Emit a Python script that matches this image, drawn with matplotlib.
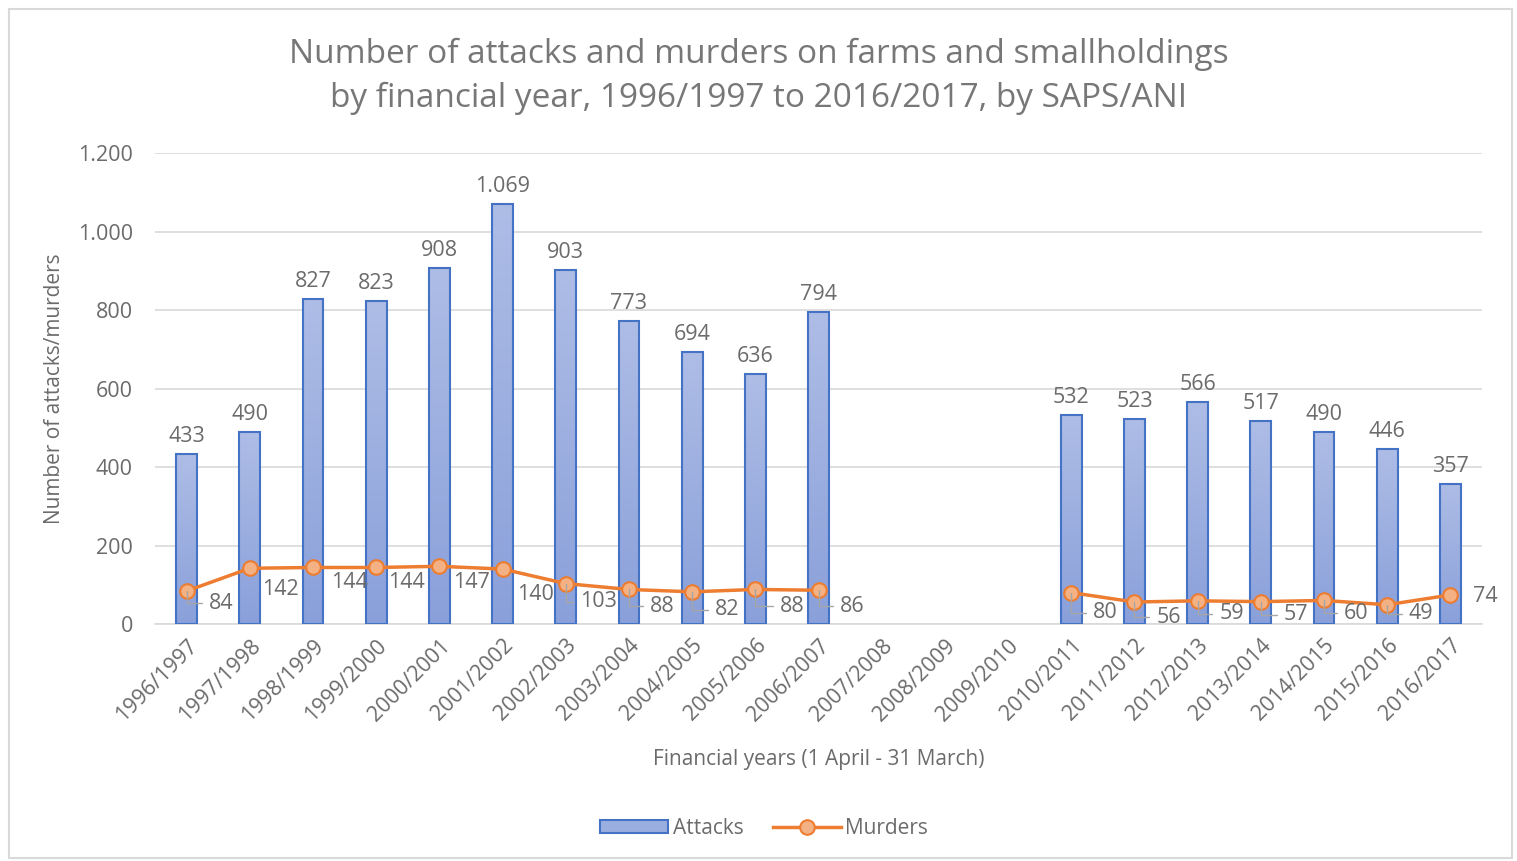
import matplotlib.pyplot as plt
import numpy as np
from matplotlib.patches import Rectangle
from matplotlib.colors import LinearSegmentedColormap

plt.rcParams['font.family'] = ['Open Sans', 'DejaVu Sans']

years = ["1996/1997", "1997/1998", "1998/1999", "1999/2000", "2000/2001",
         "2001/2002", "2002/2003", "2003/2004", "2004/2005", "2005/2006",
         "2006/2007", "2007/2008", "2008/2009", "2009/2010", "2010/2011",
         "2011/2012", "2012/2013", "2013/2014", "2014/2015", "2015/2016",
         "2016/2017"]
attacks = [433, 490, 827, 823, 908, 1069, 903, 773, 694, 636, 794,
           None, None, None, 532, 523, 566, 517, 490, 446, 357]
murders = [84, 142, 144, 144, 147, 140, 103, 88, 82, 88, 86,
           None, None, None, 80, 56, 59, 57, 60, 49, 74]

# label offsets for the murder labels (pixels), and whether a leader line shows
mur_off = [(35, -12), (31, -21), (36, -15), (30, -15), (32, -16), (33, -25),
           (33, -18), (33, -17), (35, -18), (37, -17), (34, -16),
           None, None, None,
           (34, -20), (34, -15), (34, -13), (35, -13), (32, -13), (34, -9), (35, -2)]
leader = [True, False, False, False, False, False, True, True, True, True, True,
          False, False, False, True, True, True, True, True, True, False]

GRAY = "#6b6b6b"
GRID = "#d9d9d9"
FS = 15.5

fig = plt.figure(figsize=(15.17, 8.61), dpi=100)
fig.patches.append(Rectangle((9 / 1517, 3 / 861), 1503 / 1517, 849 / 861,
                             transform=fig.transFigure, fill=False,
                             edgecolor=GRID, linewidth=1.5))
ax = fig.add_axes([155 / 1517, 1 - 624 / 861, (1482 - 155) / 1517, (624 - 153) / 861])

x = np.arange(len(years))
bx = [i for i, v in enumerate(attacks) if v is not None]
bv = [v for v in attacks if v is not None]
bars = ax.bar(bx, bv, width=0.33, color="none", edgecolor="#4472c4",
              linewidth=1.5, zorder=3)

# gradient fill in the bars
grad = np.linspace(0, 1, 256).reshape(-1, 1)
cmap = LinearSegmentedColormap.from_list("g", ["#8aa0da", "#aebde6"])
for b in bars:
    x0, w, h = b.get_x(), b.get_width(), b.get_height()
    im = ax.imshow(grad, extent=(x0, x0 + w, 0, h), origin="lower",
                   cmap=cmap, aspect="auto", zorder=2)
    im.set_clip_path(b)

for i, v in zip(bx, bv):
    ax.annotate(f"{v:,}".replace(",", "."), (i, v), xytext=(0, 7),
                textcoords="offset pixels", ha="center", va="bottom",
                fontsize=FS, color=GRAY)

my = [np.nan if v is None else v for v in murders]
line, = ax.plot(x, my, color="#ed7d31", linewidth=2.5, marker="o", markersize=10.5,
                markerfacecolor="#f4b183", markeredgecolor="#ed7d31",
                markeredgewidth=1.5, zorder=4)

for i, v in enumerate(murders):
    if v is None:
        continue
    dx, dy = mur_off[i]
    props = None
    if leader[i]:
        props = dict(arrowstyle="-", color="#a6a6a6", linewidth=1,
                     connectionstyle="angle,angleA=0,angleB=90,rad=0",
                     shrinkA=3, shrinkB=0)
    ax.annotate(str(v), (i, v), xytext=(dx, dy), textcoords="offset pixels",
                ha="center", va="center", fontsize=FS, color=GRAY,
                arrowprops=props, zorder=5)

ax.set_xlim(-0.5, len(years) - 0.5)
ax.set_ylim(0, 1200)
ax.set_yticks(range(0, 1201, 200))
ax.set_yticklabels([f"{t:,}".replace(",", ".") for t in range(0, 1201, 200)])
ax.set_xticks(x)
ax.set_xticklabels(years, rotation=45, ha="right", rotation_mode="anchor")
ax.tick_params(axis="both", length=0, labelsize=FS, labelcolor=GRAY)
ax.tick_params(axis="y", pad=16)
ax.tick_params(axis="x", pad=8)
ax.grid(axis="y", color=GRID, linewidth=1.2, zorder=0)
ax.set_axisbelow(True)
for s in ["top", "right", "left"]:
    ax.spines[s].set_visible(False)
ax.spines["bottom"].set_color(GRID)
ax.spines["bottom"].set_linewidth(1.2)

ax.set_ylabel("Number of attacks/murders", fontsize=15, color=GRAY, labelpad=9)
fig.text(819 / 1517, 1 - 760 / 861, "Financial years (1 April - 31 March)",
         ha="center", va="center", fontsize=15, color=GRAY)
fig.text(759 / 1517, 1 - 76 / 861,
         "Number of attacks and murders on farms and smallholdings\n"
         "by financial year, 1996/1997 to 2016/2017, by SAPS/ANI",
         ha="center", va="center", fontsize=24, color="#777777", linespacing=1.43)

att_handle = Rectangle((0, 0), 1, 1, facecolor="#9aaee0", edgecolor="#4472c4",
                       linewidth=1.5)
fig.legend(handles=[att_handle, line], labels=["Attacks", "Murders"],
           loc="center", bbox_to_anchor=(764 / 1517, 1 - 828 / 861), ncol=2,
           frameon=False, fontsize=15, labelcolor=GRAY, handlelength=3.3,
           handleheight=0.6, columnspacing=1.4, handletextpad=0.2)

fig.savefig("out.png", dpi=100)
